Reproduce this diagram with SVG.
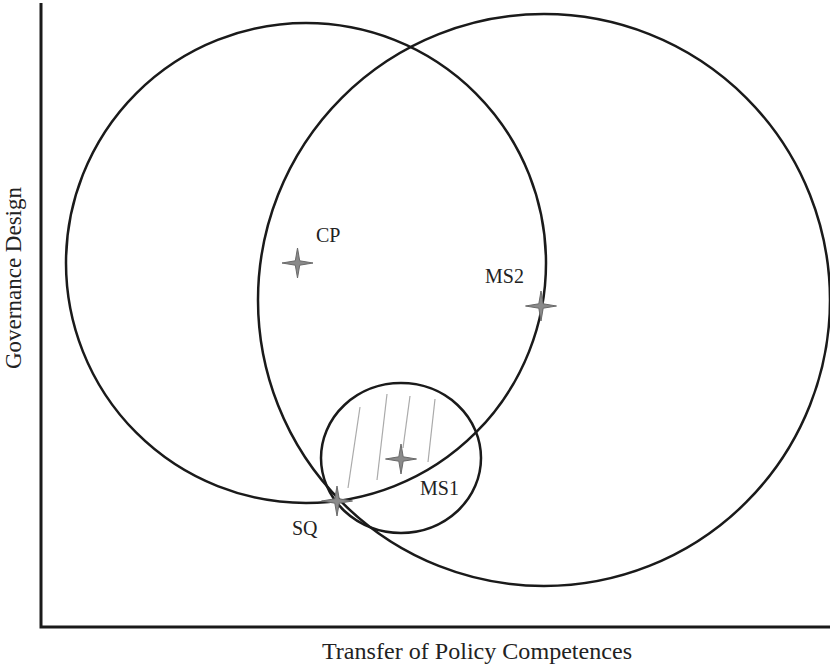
<svg xmlns="http://www.w3.org/2000/svg" width="830" height="670" viewBox="0 0 830 670">
<style>
text{font-family:"Liberation Serif","Times New Roman",serif;fill:#222;}
.lbl{font-size:20px;}
.ax{font-size:23px;}
.c{fill:none;stroke:#1a1a1a;stroke-width:2.5;}
.star{fill:#8a8a8a;stroke:#6a6a6a;stroke-width:1;}
.hatch{stroke:#aaaaaa;stroke-width:1.2;}
</style>
<defs>
<path id="st" d="M0,-15 L2.2,-2.2 L15.5,0 L2.2,2.2 L0,15 L-2.2,2.2 L-15.5,0 L-2.2,-2.2 Z"/>
</defs>
<rect width="830" height="670" fill="#fff"/>
<g id="axes">
<path d="M41,3 V627 H830" fill="none" stroke="#1a1a1a" stroke-width="3"/>
<text class="ax" x="322" y="659" textLength="310" lengthAdjust="spacingAndGlyphs">Transfer of Policy Competences</text>
<text class="ax" transform="translate(21,278) rotate(-90)" text-anchor="middle">Governance Design</text>
</g>
<g id="circles">
<circle id="c-left" class="c" cx="306" cy="263" r="240"/>
<circle id="c-right" class="c" cx="544" cy="300" r="286"/>
<ellipse id="c-small" class="c" cx="401" cy="458" rx="80" ry="75"/>
</g>
<g id="hatching">
<line class="hatch" x1="360" y1="407" x2="348" y2="488"/>
<line class="hatch" x1="387" y1="394" x2="377" y2="480"/>
<line class="hatch" x1="410" y1="396" x2="403" y2="448"/>
<line class="hatch" x1="435" y1="399" x2="428" y2="462"/>
</g>
<g id="CP"><use href="#st" class="star" transform="translate(297.5,263)"/><text class="lbl" x="316" y="242">CP</text></g>
<g id="MS2"><use href="#st" class="star" transform="translate(541,306)"/><text class="lbl" x="485" y="283">MS2</text></g>
<g id="MS1"><use href="#st" class="star" transform="translate(401,459)"/><text class="lbl" x="420" y="495">MS1</text></g>
<g id="SQ"><use href="#st" class="star" transform="translate(337,501)"/><text class="lbl" x="292" y="535">SQ</text></g>
</svg>
